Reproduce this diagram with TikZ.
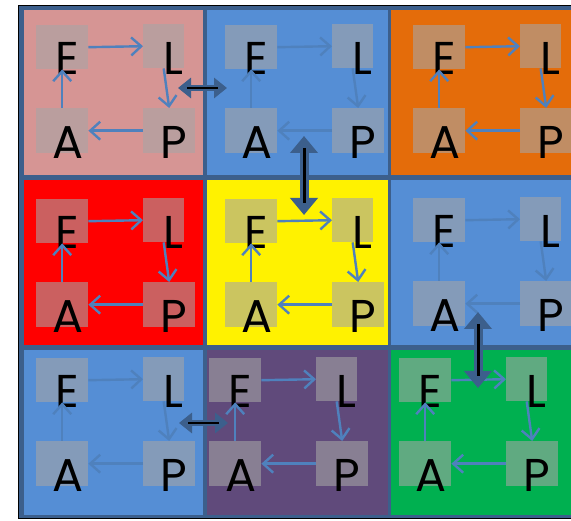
\documentclass[tikz,border=0pt]{standalone}
\usepackage{fontspec}
\setmainfont{Poppins}
\usetikzlibrary{arrows.meta}
\definecolor{steel}{HTML}{3C5F8C}
\definecolor{cpink}{HTML}{D69594}
\definecolor{cblue}{HTML}{558ED5}
\definecolor{corange}{HTML}{E46C0A}
\definecolor{cpurple}{HTML}{604A7B}
\definecolor{cgreen}{HTML}{00B050}
\definecolor{boxgray}{HTML}{A6A6A6}
\definecolor{arrblue}{HTML}{4F81BD}
\begin{document}
\begin{tikzpicture}[x=1pt,y=-1pt]
\tikzstyle{sq}=[fill=boxgray,fill opacity=0.58,minimum width=52pt,minimum height=44pt,inner sep=0pt,anchor=north west]
\tikzstyle{ltr}=[anchor=base,inner sep=0pt,font=\fontsize{46}{46}\selectfont]
\tikzstyle{cyc}=[arrblue,line width=2.4pt,-{Straight Barb[length=10pt,width=18pt]}]
\tikzstyle{linkh}=[steel,line width=6pt,{Triangle[length=13pt,width=20pt]}-{Triangle[length=13pt,width=20pt]},postaction={draw=black,line width=2.4pt,-,shorten <=9pt,shorten >=9pt}]
\tikzstyle{linkv}=[steel,line width=9pt,{Triangle[length=17pt,width=27pt]}-{Triangle[length=17pt,width=27pt]},postaction={draw=black,line width=3pt,-,shorten <=12pt,shorten >=12pt}]
\useasboundingbox (0,0) rectangle (571,521);
\clip (0,0) rectangle (571,521);

% frame and cells
\draw[black,fill=steel] (18.5,5.5) rectangle (590,518.5);
\foreach \x/\y/\xx/\yy/\clr in {24/10/203/175/cpink,207/10/388/175/cblue,391/10/590/175/corange,
  24/180/203/345/red,207/180/388/345/yellow,391/180/590/345/cblue,
  24/350/203/515/cblue,207/350/388/515/cpurple,391/350/590/515/cgreen}
  \fill[\clr] (\x,\y) rectangle (\xx,\yy);

% E -> L -> P -> A cycle in each cell
\foreach \n/\x/\y in {1/36/25,2/225/25,3/413/25,4/36/199,5/225/199,6/413/198,7/36/358,8/209/358,9/399/358} {
  \begin{scope}[shift={(\x,\y)}]
    \node[sq] (E\n) at (0,0) {};
    \node[sq,minimum width=41pt] (L\n) at (107,-1) {};
    \node[sq,minimum height=45pt] (A\n) at (0,83) {};
    \node[sq,minimum height=45pt] (P\n) at (107,83) {};
    \node[ltr] (tE\n) at (31.5,50) {E};
    \node[ltr] (tL\n) at (137,50) {L};
    \node[ltr] (tA\n) at (32,134) {A};
    \node[ltr] (tP\n) at (138,134) {P};
    \draw[cyc] (E\n.east) -- (L\n.west);
    \draw[cyc] (L\n.south) -- (P\n.north);
    \draw[cyc] (P\n.west) -- (A\n.east);
    \draw[cyc] (A\n.north) -- (E\n.south);
  \end{scope}
}

% links between cells
\coordinate (h1a) at (178,88);  \coordinate (h1b) at (227,88);
\coordinate (h2a) at (179,423); \coordinate (h2b) at (228,423);
\coordinate (v1a) at (304,136); \coordinate (v1b) at (304,215);
\coordinate (v2a) at (478,312); \coordinate (v2b) at (478,388);
\draw[linkh] (h1a) -- (h1b);
\draw[linkh] (h2a) -- (h2b);
\draw[linkv] (v1a) -- (v1b);
\draw[linkv] (v2a) -- (v2b);
\end{tikzpicture}
\end{document}
